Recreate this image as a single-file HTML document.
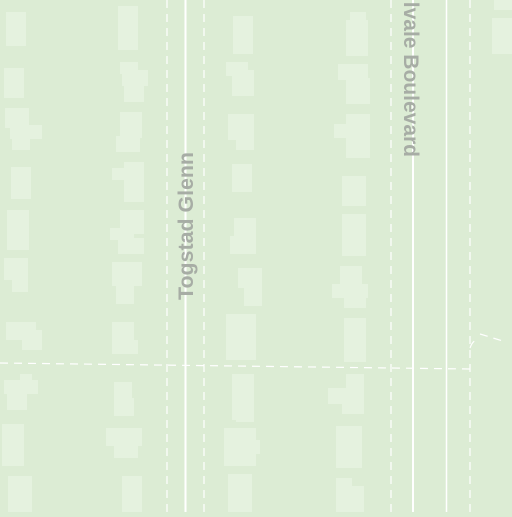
<!DOCTYPE html>
<html><head><style>
html,body{margin:0;padding:0;}
body{width:512px;height:512px;overflow:hidden;background:#dcecd4;position:relative;font-family:"Liberation Sans",sans-serif;}
</style></head><body>
<svg width="512" height="512" viewBox="0 0 512 512" xmlns="http://www.w3.org/2000/svg">
<rect width="512" height="512" fill="#dcecd4"/>
<g fill="#e5f2df">
<rect x="6" y="12" width="20" height="34"/>
<rect x="4" y="68" width="20" height="30"/>
<rect x="5" y="108" width="24" height="20"/><rect x="10" y="125" width="32" height="14"/><rect x="12" y="138" width="18" height="12"/>
<rect x="11" y="167" width="20" height="32"/>
<rect x="7" y="210" width="22" height="40"/>
<rect x="4" y="258" width="24" height="22"/><rect x="12" y="278" width="16" height="14"/>
<rect x="6" y="322" width="30" height="18"/><rect x="22" y="330" width="20" height="20"/>
<rect x="4" y="380" width="34" height="14"/><rect x="7" y="392" width="20" height="18"/><rect x="20" y="374" width="12" height="8"/>
<rect x="2" y="424" width="22" height="42"/>
<rect x="8" y="476" width="24" height="36"/>
<rect x="118" y="6" width="20" height="44"/>
<rect x="120" y="62" width="18" height="12"/><rect x="122" y="70" width="26" height="16"/><rect x="124" y="84" width="20" height="18"/>
<rect x="120" y="112" width="22" height="26"/><rect x="116" y="136" width="24" height="16"/>
<rect x="112" y="168" width="32" height="12"/><rect x="124" y="162" width="20" height="40"/>
<rect x="120" y="210" width="24" height="24"/><rect x="110" y="228" width="24" height="12"/><rect x="118" y="238" width="26" height="16"/>
<rect x="112" y="262" width="30" height="24"/><rect x="116" y="284" width="18" height="20"/>
<rect x="112" y="322" width="22" height="32"/><rect x="112" y="340" width="26" height="14"/>
<rect x="114" y="382" width="18" height="34"/><rect x="118" y="398" width="16" height="18"/>
<rect x="106" y="428" width="36" height="18"/><rect x="114" y="442" width="24" height="16"/>
<rect x="122" y="476" width="20" height="36"/>
<rect x="233" y="16" width="20" height="38"/>
<rect x="226" y="62" width="22" height="14"/><rect x="232" y="70" width="22" height="26"/>
<rect x="228" y="114" width="26" height="26"/><rect x="236" y="136" width="18" height="14"/>
<rect x="232" y="164" width="20" height="28"/>
<rect x="234" y="218" width="22" height="36"/><rect x="230" y="236" width="14" height="18"/>
<rect x="238" y="268" width="24" height="20"/><rect x="244" y="286" width="18" height="20"/>
<rect x="226" y="314" width="30" height="46"/>
<rect x="232" y="374" width="22" height="46"/><rect x="236" y="410" width="18" height="12"/>
<rect x="224" y="428" width="32" height="38"/><rect x="250" y="440" width="10" height="14"/>
<rect x="228" y="474" width="24" height="38"/>
<rect x="350" y="12" width="16" height="12"/><rect x="346" y="20" width="22" height="36"/>
<rect x="338" y="64" width="30" height="16"/><rect x="346" y="78" width="24" height="26"/>
<rect x="346" y="114" width="24" height="44"/><rect x="334" y="124" width="14" height="14"/>
<rect x="342" y="176" width="24" height="30"/>
<rect x="342" y="214" width="24" height="42"/>
<rect x="340" y="266" width="22" height="20"/><rect x="332" y="284" width="36" height="14"/><rect x="344" y="296" width="22" height="12"/>
<rect x="344" y="318" width="22" height="44"/>
<rect x="346" y="374" width="18" height="14"/><rect x="328" y="388" width="36" height="16"/><rect x="342" y="402" width="22" height="12"/>
<rect x="336" y="426" width="26" height="42"/>
<rect x="336" y="478" width="16" height="34"/><rect x="346" y="486" width="18" height="26"/>
<rect x="494" y="0" width="18" height="10"/>
<rect x="492" y="18" width="20" height="36"/>
</g>
<g stroke="#ffffff" fill="none">
<line x1="185.5" y1="0" x2="185.5" y2="512" stroke-width="2"/>
<line x1="413" y1="0" x2="413" y2="512" stroke-width="2"/>
<line x1="446.5" y1="0" x2="446.5" y2="512" stroke-width="1.5"/>
<g stroke-width="1.2" stroke-dasharray="8,6">
<line x1="167" y1="0" x2="167" y2="512"/>
<line x1="204" y1="0" x2="204" y2="512"/>
<line x1="391" y1="0" x2="391" y2="512"/>
<line x1="470" y1="0" x2="470" y2="512"/>
<line x1="0" y1="363" x2="470" y2="369"/>
<path d="M470 348 Q472 342 476 340"/>
<line x1="480" y1="334" x2="506" y2="342"/>
</g>
</g>
<text transform="translate(193,300) rotate(-90)" font-size="21" font-weight="bold" fill="#a7ada5" textLength="148" lengthAdjust="spacingAndGlyphs">Togstad Glenn</text>
<text transform="translate(404,157) rotate(90)" font-size="21" font-weight="bold" fill="#a7ada5" text-anchor="end">lvale Boulevard</text>
</svg>
</body></html>
